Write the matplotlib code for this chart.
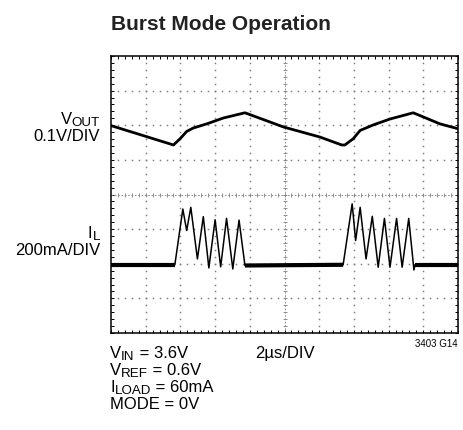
import matplotlib
matplotlib.use("Agg")
import matplotlib.pyplot as plt
import numpy as np

plt.rcParams['font.family'] = ['Liberation Sans', 'DejaVu Sans']

# scope traces, in screen divisions (10 x 8 grid)
vout_x = [0.0, 1.80, 1.99, 2.18, 2.37, 2.76, 3.24, 3.86, 4.97, 6.02, 6.65,
          6.74, 6.98, 7.18, 7.56, 8.04, 8.71, 9.48, 10.0]
vout_y = [5.99, 5.43, 5.61, 5.82, 5.92, 6.04, 6.21, 6.36, 5.95, 5.66, 5.43,
          5.43, 5.61, 5.85, 6.01, 6.18, 6.36, 6.04, 5.90]

il_x = [0.0, 1.84, 2.07, 2.18, 2.30, 2.49, 2.66, 2.82, 3.00, 3.16, 3.33, 3.51, 3.69, 3.86,
        6.69, 6.95, 7.05, 7.18, 7.35, 7.53, 7.70, 7.88, 8.04, 8.23, 8.39, 8.58, 8.73, 8.76, 10.0]
il_y = [1.97, 1.97, 3.58, 2.96, 3.63, 2.14, 3.36, 1.88, 3.27, 1.91, 3.31, 1.85, 3.26, 1.95,
        1.97, 3.73, 2.67, 3.63, 2.14, 3.37, 1.90, 3.31, 1.90, 3.31, 1.90, 3.31, 1.82, 1.97, 1.97]

W, H = 463, 431
fig = plt.figure(figsize=(W / 100, H / 100), dpi=100)
ax = fig.add_axes([111/W, 97/H, 347/W, 277/H])
ax.set_xlim(0, 10)
ax.set_ylim(0, 8)

# dotted graticule
grid_c = '#808080'
minor = np.arange(0.2, 10, 0.2)
yy = np.arange(0.2, 8, 0.2)
for gx in range(1, 10):
    if gx == 5:
        continue
    ax.plot(np.full_like(yy, gx), yy, ls='none', marker='s', ms=1.1, mew=0, color=grid_c)
for gy in range(1, 8):
    if gy == 4:
        continue
    ax.plot(minor, np.full_like(minor, gy), ls='none', marker='s', ms=1.1, mew=0, color=grid_c)

# centre crosshair
ax.axvline(5, color=grid_c, lw=0.6, ls=(0, (2, 2)))
ax.axhline(4, color=grid_c, lw=0.6, ls=(0, (2, 2)))
ax.plot(np.full_like(yy, 5), yy, ls='none', marker='_', ms=3, mew=0.6, color=grid_c)
ax.plot(minor, np.full_like(minor, 4), ls='none', marker='|', ms=3, mew=0.6, color=grid_c)

# traces
ax.plot(vout_x, vout_y, color='black', lw=2.0, solid_joinstyle='round')
ax.plot(il_x, il_y, color='black', lw=1.1)
# noisy baseline looks thicker
ix = np.array(il_x)
iy = np.array(il_y)
for i in range(len(ix) - 1):
    if iy[i] < 2.05 and iy[i + 1] < 2.05 and ix[i + 1] - ix[i] > 0.5:
        ax.plot(ix[i:i + 2], iy[i:i + 2], color='black', lw=3.0, solid_capstyle='butt')

ax.set_xticks(range(11))
ax.set_yticks(range(9))
ax.set_xticks(np.arange(0, 10.01, 0.2), minor=True)
ax.set_yticks(np.arange(0, 8.01, 0.2), minor=True)
ax.tick_params(which='both', direction='in', length=2.5, width=0.7,
               top=True, right=True, labelbottom=False, labelleft=False)
for s in ax.spines.values():
    s.set_linewidth(1.1)

fig.canvas.draw()
renderer = fig.canvas.get_renderer()


def label(x, y, parts, ha='left', fs=12, weight='normal', color='black'):
    """parts: list of (text, is_subscript); x, y in pixels from top-left, y = baseline"""
    objs = []
    for txt, sub in parts:
        t = fig.text(0, 0, txt, fontsize=fs * 0.8 if sub else fs, color=color,
                     fontweight=weight, ha='left', va='baseline', transform=None)
        objs.append((t, sub))
    widths = [t.get_window_extent(renderer).width for t, _ in objs]
    x0 = x - sum(widths) if ha == 'right' else x
    for (t, sub), w in zip(objs, widths):
        t.set_position((x0, H - y - (2.5 if sub else 0)))
        x0 += w


label(111, 30, [('Burst Mode Operation', False)], fs=15, weight='bold', color='#222222')

label(100, 124, [('V', False), ('OUT', True)], ha='right')
label(100, 141, [('0.1V/DIV', False)], ha='right')
label(100, 238, [('I', False), ('L', True)], ha='right')
label(100, 255, [('200mA/DIV', False)], ha='right')

label(110, 358, [('V', False), ('IN', True), (' = 3.6V', False)])
label(110, 375, [('V', False), ('REF', True), (' = 0.6V', False)])
label(110, 392, [('I', False), ('LOAD', True), (' = 60mA', False)])
label(110, 409, [('MODE = 0V', False)])
label(255, 358, [('2\u00b5s/DIV', False)])
label(458, 347, [('3403 G14', False)], ha='right', fs=7)

fig.savefig('out.png', dpi=100)
